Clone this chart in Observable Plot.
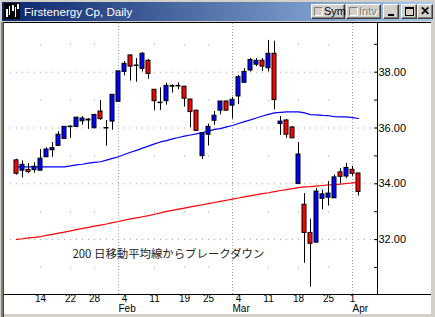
<!DOCTYPE html>
<html><head><meta charset="utf-8">
<script src="https://cdn.jsdelivr.net/npm/d3@7"></script>
<script src="https://cdn.jsdelivr.net/npm/@observablehq/plot@0.6"></script>
<style>
body{margin:0;background:#d4d0c8;}
#win{position:relative;width:435px;height:317px;overflow:hidden;background:#d4d0c8;font-family:"Liberation Sans",Arial,sans-serif;}
#title{position:absolute;left:2px;top:2px;width:431px;height:19px;background:linear-gradient(to right,#0a246a,#a6caf0);}
#title .t{position:absolute;left:22px;top:2px;color:#fff;font-size:11.6px;line-height:15px;}
#icon{position:absolute;left:2px;top:1px;width:16px;height:16px;background:#000;}
.btn{position:absolute;top:2px;height:13px;background:#d4d0c8;border-top:1px solid #fff;border-left:1px solid #fff;border-right:1px solid #404040;border-bottom:1px solid #404040;box-shadow:inset -1px -1px #808080;font-size:11px;line-height:13px;color:#000;box-sizing:content-box;}
.chk{position:absolute;left:2px;top:2px;width:7px;height:7px;border-top:1px solid #808080;border-left:1px solid #808080;border-right:1px solid #fff;border-bottom:1px solid #fff;background:#d4d0c8;}
#panel{position:absolute;left:4px;top:22px;width:427px;height:292px;background:#fff;border-top:1px solid #000;box-sizing:border-box;}
#lb{position:absolute;left:0;top:22px;width:4px;height:295px;background:linear-gradient(to right,#d4d0c8 0,#d4d0c8 1px,#808080 1px,#808080 3px,#404040 3px);}
#chart{position:absolute;left:0;top:22px;}
</style></head>
<body>
<div id="win">
  <div id="title">
    <div id="icon"><svg width="16" height="16"><rect x="2" y="6" width="2" height="8" fill="#fff"/><rect x="5" y="3" width="1" height="9" fill="#fff"/><rect x="8" y="2" width="2" height="6" fill="#fff"/><rect x="11" y="4" width="1" height="10" fill="#fff"/><rect x="13" y="1" width="2" height="5" fill="#fff"/></svg></div>
    <div class="t">Firstenergy Cp, Daily</div>
    <div class="btn" style="left:309px;width:32px;"><div class="chk"></div><span style="position:absolute;left:12px;top:0">Sym</span></div>
    <div class="btn" style="left:344px;width:33px;"><div class="chk"></div><span style="position:absolute;left:12px;top:0;color:#808080;text-shadow:1px 1px #fff">Intv</span></div>
    <div class="btn" style="left:381px;width:14px;"><div style="position:absolute;left:4px;top:9px;width:6px;height:2px;background:#000"></div></div>
    <div class="btn" style="left:399px;width:14px;"><div style="position:absolute;left:3px;top:2px;width:7px;height:6px;border:1px solid #000;border-top-width:2px"></div></div>
    <div class="btn" style="left:415px;width:14px;"><div style="position:absolute;left:0;top:0;width:14px;text-align:center;font-weight:bold;font-size:12px">✕</div></div>
  </div>
  <div id="panel"></div>
  <div id="lb"></div>
  <div id="chart"></div>
</div>
<script>
// ---- data ----
const dates = ["Jan 8","Jan 9","Jan 10","Jan 11","Jan 14","Jan 15","Jan 16","Jan 17","Jan 18","Jan 22","Jan 23","Jan 24","Jan 25","Jan 28","Jan 29","Jan 30","Jan 31","Feb 1","Feb 4","Feb 5","Feb 6","Feb 7","Feb 8","Feb 11","Feb 12","Feb 13","Feb 14","Feb 15","Feb 19","Feb 20","Feb 21","Feb 22","Feb 25","Feb 26","Feb 27","Feb 28","Mar 1","Mar 4","Mar 5","Mar 6","Mar 7","Mar 8","Mar 11","Mar 12","Mar 13","Mar 14","Mar 15","Mar 18","Mar 19","Mar 20","Mar 21","Mar 22","Mar 25","Mar 26","Mar 27","Mar 28","Apr 1","Apr 2"];
const open  = [34.84,34.47,34.50,34.49,34.47,34.95,35.20,35.36,35.61,36.03,36.04,36.24,36.27,35.99,36.59,36.00,36.23,36.94,38.01,38.60,38.24,38.12,38.41,37.37,36.91,36.96,37.50,37.51,37.48,37.02,36.62,34.99,35.76,36.26,36.62,36.95,36.80,37.13,37.62,38.06,38.27,38.41,38.14,38.66,36.14,36.27,36.02,33.99,33.25,32.24,31.89,33.46,33.50,33.48,34.41,34.26,34.50,34.37];
const high  = [34.88,34.82,34.72,34.75,35.23,35.29,35.48,35.87,36.05,36.09,36.38,36.41,36.34,36.48,36.99,36.27,37.20,38.03,38.38,38.62,38.49,38.71,38.46,37.38,37.44,37.61,37.55,37.62,37.49,37.03,36.63,35.81,36.14,36.59,36.95,36.97,37.10,37.88,38.13,38.49,38.49,38.49,39.14,39.11,36.41,36.30,36.05,35.48,33.65,32.73,33.83,33.77,34.08,34.32,34.54,34.73,34.62,34.37];
const low   = [34.31,34.21,34.36,34.38,34.47,34.95,34.95,35.36,35.60,35.63,36.03,36.10,35.95,35.98,36.27,35.35,35.92,36.94,37.87,37.68,37.64,38.01,37.75,36.62,36.63,36.82,37.25,37.37,36.75,36.01,35.88,34.87,35.35,36.10,36.47,36.62,36.32,36.84,37.62,38.01,38.20,38.03,38.01,36.65,35.73,35.63,35.63,33.99,31.15,30.29,31.89,33.07,33.20,33.48,34.00,34.18,34.27,33.56];
const close = [34.36,34.68,34.42,34.61,34.90,35.23,35.28,35.76,36.04,36.05,36.37,36.34,36.30,36.47,36.32,35.98,37.19,38.03,38.30,38.20,38.22,38.66,37.94,36.96,36.89,37.51,37.48,37.49,37.05,36.57,35.90,35.81,36.04,36.44,36.95,36.62,37.01,37.82,38.01,38.44,38.41,38.20,38.66,37.00,36.23,35.76,35.63,35.05,32.24,31.85,33.72,33.62,33.65,34.23,34.25,34.57,34.36,33.71];
const maShort = [34.61,34.61,34.61,34.61,34.61,34.61,34.61,34.61,34.61,34.64,34.68,34.70,34.74,34.77,34.79,34.85,34.91,34.97,35.05,35.13,35.20,35.28,35.35,35.43,35.50,35.55,35.61,35.66,35.71,35.75,35.79,35.84,35.89,35.95,35.98,36.04,36.09,36.16,36.23,36.29,36.36,36.43,36.49,36.54,36.56,36.58,36.58,36.58,36.54,36.48,36.47,36.45,36.44,36.41,36.40,36.40,36.37,36.34];
const ma200 = [32.01,32.03,32.06,32.08,32.11,32.15,32.19,32.23,32.27,32.31,32.36,32.40,32.44,32.48,32.52,32.56,32.61,32.65,32.70,32.74,32.78,32.82,32.86,32.91,32.96,33.01,33.05,33.09,33.13,33.17,33.21,33.25,33.29,33.33,33.37,33.41,33.45,33.49,33.53,33.57,33.61,33.65,33.68,33.72,33.76,33.79,33.83,33.86,33.89,33.90,33.92,33.94,33.96,33.97,33.99,34.01,34.03,34.05];
const yLabelTicks = [32, 34, 36, 38];
const yMinorTicks = [31, 33, 35, 37, 39];
const xTickIdx = [4, 9, 13, 18, 23, 28, 32, 37, 42, 47, 52, 56];
const xTickLabels = ["14","22","28","4","11","19","25","4","11","18","25","1"];
const weekIdx = [4, 9, 13, 23, 28, 32, 42, 47, 52];
const monthIdx = [17, 36, 56];
const monthLabels = ["Feb", "Mar", "Apr"];
const annotText = ["200 日移動平均線からブレークダウン"];
const annotAt = [{i: 9.33, v: 31.48}];

// ---- build tables ----
const rows = dates.map((d, i) => ({i, date: d, open: open[i], high: high[i], low: low[i], close: close[i], ma: maShort[i], ma200: ma200[i]}));
const months = monthIdx.map((i, k) => ({i, label: monthLabels[k]}));
const gridDots = weekIdx.flatMap(i => yMinorTicks.map(v => ({i, v})));
const annots = annotText.map((t, k) => ({text: t, ...annotAt[k]}));
const tickLabelOf = new Map(xTickIdx.map((i, k) => [i, xTickLabels[k]]));

const hw = 2 / 6; // half body width in index units
const W = 435, H = 295, mL = 5, mR = 58, mT = 1, mB = 23;
const pxPerIdx = 6, x0 = 16;         // first candle centre
const pxPerDollar = 27.9, y38 = 49.7; // layout of the price scale
const xDomain = [(mL - x0) / pxPerIdx, (W - mR - x0) / pxPerIdx];
const yDomain = [38 - (H - mB - y38) / pxPerDollar, 38 + (y38 - mT) / pxPerDollar];

function frameLines(index, scales, values, dim) {
  const g = d3.create("svg:g");
  const yb = dim.height - dim.marginBottom + 0.5;
  const xr = dim.width - dim.marginRight + 0.5;
  g.append("line").attr("x1", 4).attr("x2", dim.width - 4).attr("y1", yb).attr("y2", yb).attr("stroke", "#000");
  g.append("line").attr("x1", xr).attr("x2", xr).attr("y1", 0).attr("y2", yb).attr("stroke", "#000");
  return g.node();
}

const chart = Plot.plot({
  width: W, height: H,
  marginLeft: mL, marginRight: mR, marginTop: mT, marginBottom: mB,
  x: {domain: xDomain, axis: null},
  y: {domain: yDomain, axis: null},
  style: {background: "transparent", fontFamily: "'Liberation Sans', Arial, sans-serif", fontSize: "11px", color: "#000", overflow: "visible"},
  marks: [
    Plot.ruleY(yLabelTicks, {stroke: "#a0a0a0", strokeDasharray: "1,5", strokeDashoffset: 1}),
    Plot.ruleX(monthIdx, {stroke: "#a0a0a0", strokeDasharray: "1,2"}),
    Plot.dot(gridDots, {x: "i", y: "v", r: 0.6, fill: "#a0a0a0", stroke: null}),
    Plot.line(rows, {x: "i", y: "ma200", stroke: "#ff0000", strokeWidth: 1.2}),
    Plot.line(rows, {x: "i", y: "ma", stroke: "#0000ff", strokeWidth: 1.2}),
    Plot.ruleX(rows, {x: "i", y1: "low", y2: "high", stroke: "#000"}),
    Plot.rect(rows, {x1: d => d.i - hw, x2: d => d.i + hw, y1: "open", y2: "close",
      fill: d => d.close > d.open ? "#0000ff" : "#ff0000", stroke: "#000", strokeWidth: 1}),
    Plot.text(annots, {x: "i", y: "v", text: "text", textAnchor: "start", fontFamily: "'Noto Sans CJK JP', sans-serif", fontSize: 11.4, fill: "#222"}),
    Plot.axisY({anchor: "right", ticks: yLabelTicks, tickSize: 0, tickPadding: 1, tickFormat: d3.format(".2f"), label: null}),
    Plot.axisY({anchor: "right", ticks: [...yLabelTicks, ...yMinorTicks], tickSize: -4, fill: "none", label: null}),
    Plot.axisX({ticks: xTickIdx, tickSize: 0, tickPadding: 0, fontSize: 10, tickFormat: i => tickLabelOf.get(i), label: null}),
    Plot.text(months, {x: "i", text: "label", frameAnchor: "bottom", lineAnchor: "top", dy: 10.5, fontSize: 10, textAnchor: "start", fill: "#000"}),
    frameLines
  ]
});
document.getElementById("chart").appendChild(chart);
</script>
</body></html>
